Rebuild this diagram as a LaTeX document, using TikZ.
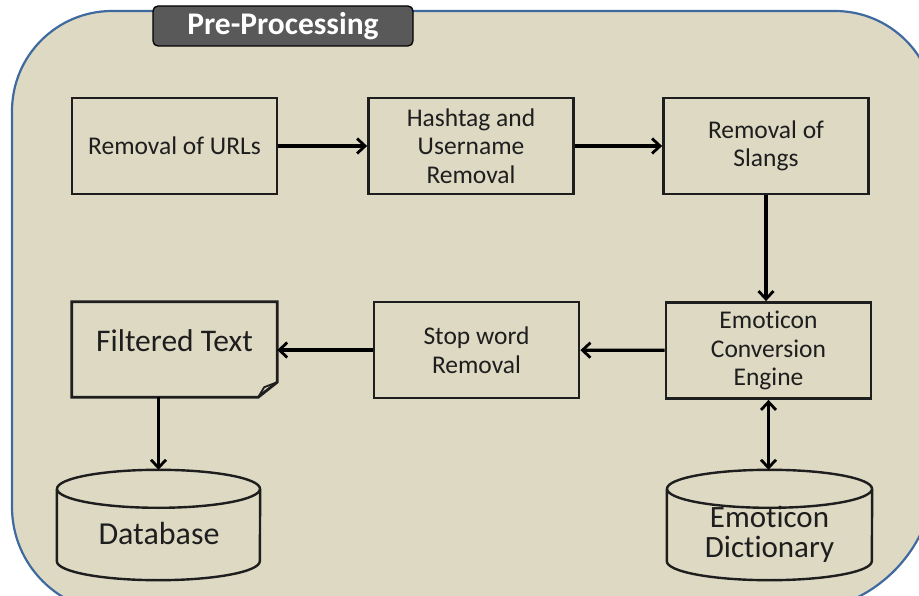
\documentclass[tikz,border=0pt]{standalone}
\usepackage{fontspec}
\setmainfont{Carlito}[Ligatures={NoCommon}]
\usetikzlibrary{arrows.meta,calc}
\definecolor{bgc}{HTML}{DDD9C3}
\definecolor{outerc}{HTML}{3F6A9F}
\definecolor{tabc}{HTML}{595959}
\definecolor{txtc}{HTML}{1E1E1E}
\newcommand{\drawcyl}[2]{%
  \draw[cylline] ($(#1.north west)+(0,19)$) -- ($(#1.south west)+(0,-19)$)
     arc[start angle=180,end angle=0,x radius=#2,y radius=19] -- ($(#1.north east)+(0,19)$);
  \draw[cylline] ($(#1.north)+(0,19)$) ellipse[x radius=#2,y radius=19];}
\tikzset{
  procbox/.style={draw=txtc, line width=2.8pt, fill=bgc, minimum width=205pt, minimum height=96pt,
     align=center, text=txtc, font=\fontsize{25.5}{28.5}\selectfont, inner sep=2pt},
  bigtext/.style={align=center, text=txtc, inner sep=0pt, text height=22pt, text depth=0pt},
  hidden/.style={minimum width=205pt, minimum height=96pt, inner sep=0pt},
  cylline/.style={draw=txtc, line width=2.4pt},
  flow/.style={draw=black, line width=3.3pt, -{Straight Barb[length=8pt,width=15pt,line width=2.8pt]}},
  flowboth/.style={draw=black, line width=3.3pt, {Straight Barb[length=8pt,width=15pt,line width=2.8pt]}-{Straight Barb[length=8pt,width=15pt,line width=2.8pt]}},
}
\begin{document}
\begin{tikzpicture}[x=1pt,y=-1pt]
\useasboundingbox (0,0) rectangle (919,596);
\clip (0,0) rectangle (919,596);
\fill[white] (0,0) rectangle (919,596);
% outer rounded panel
\path[fill=bgc, draw=outerc, line width=2.2pt]
  (12,300) [rounded corners=100pt] -- (12,11) -- (935,11) [rounded corners=140pt] -- (935,612) [rounded corners=105pt] -- (12,612) [sharp corners] -- cycle;
% title tab
\node[draw=black, line width=1.3pt, fill=tabc, rounded corners=5pt, minimum width=260pt, minimum height=40pt,
      text=white, font=\fontsize{31.5}{34}\selectfont\bfseries] (title) at (283,26) {Pre-Processing};
% process boxes
\node[procbox] (url)   at (174.5,146) {Removal of URLs};
\node[procbox] (hash)  at (471,146)   {Hashtag and\\Username\\Removal};
\node[procbox] (slang) at (766,146)   {Removal of\\Slangs};
\node[procbox] (emo)   at (768.5,350.5) {Emoticon\\Conversion\\Engine};
\node[procbox] (stop)  at (476.5,350) {Stop word\\Removal};
% filtered text (document shape)
\node[hidden, minimum height=95pt] (ft) at (174.5,349.5) {};
\draw[draw=txtc, line width=2.8pt, line join=miter]
  (ft.north west) -- (ft.north east) -- ($(ft.south east)+(0,-15)$) -- ($(ft.south east)+(-19,0)$) -- (ft.south west) -- cycle;
\draw[draw=txtc, line width=1.8pt, line join=round]
  ($(ft.south east)+(-19,0)$) -- ($(ft.south east)+(-13,-10)$) -- ($(ft.south east)+(0,-15)$);
\node[bigtext, font=\fontsize{31.5}{34}\selectfont] (ftlabel) at (174.5,341) {Filtered Text};
% cylinders
\node[hidden, minimum width=203pt, minimum height=110pt] (db) at (158.5,525) {};
\drawcyl{db}{101.5}
\node[bigtext, font=\fontsize{32}{34}\selectfont] (dblabel) at (159,533) {Database};
\node[hidden, minimum width=205pt, minimum height=110pt] (dict) at (769.5,525) {};
\drawcyl{dict}{102.5}
\node[align=center, text=txtc, inner sep=0pt, font=\fontsize{31}{30}\selectfont] (dictlabel) at (769.5,534) {Emoticon\\Dictionary};
% connectors
\draw[flow] (url) -- (hash);
\draw[flow] (hash) -- (slang);
\draw[flow] (slang.south) -- (slang.south |- emo.north);
\draw[flow] (emo) -- (stop);
\draw[flow] (stop.west) -- (ft.east |- stop.west);
\draw[flow] (db.north |- ft.south) -- (db.north);
\draw[flowboth] (emo.south) -- (emo.south |- dict.north);
\end{tikzpicture}
\end{document}
